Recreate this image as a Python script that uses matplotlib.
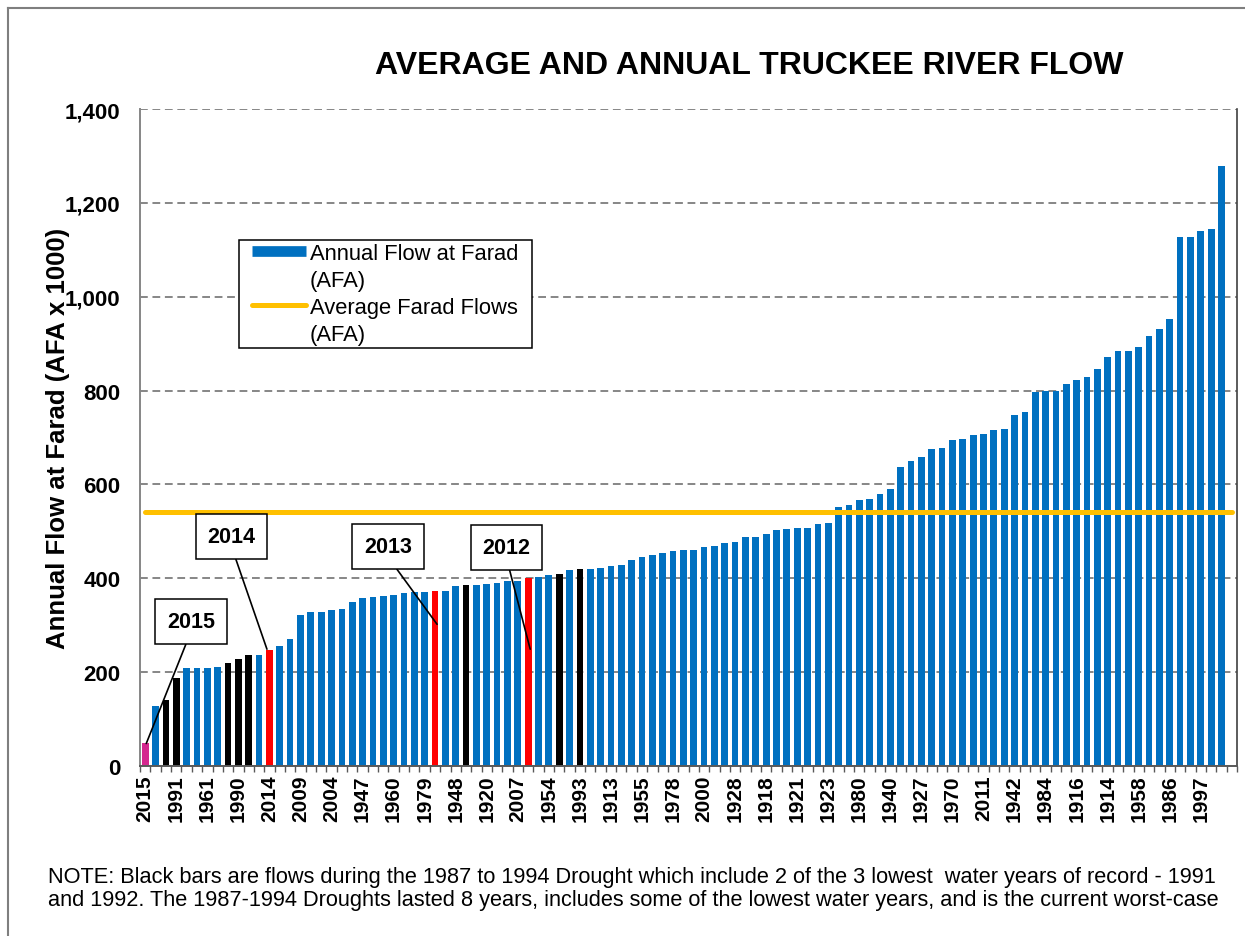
# Average and annual Truckee River flow at Farad, sorted low to high
import numpy as np
import matplotlib.pyplot as plt
from matplotlib.lines import Line2D
from matplotlib.path import Path
from matplotlib.ticker import FuncFormatter

plt.rcParams['font.family'] = ['Liberation Sans', 'DejaVu Sans']

# annual flows (AFA x 1000), sorted ascending
flows = [49, 128, 140, 188, 208, 208, 209, 210, 219, 228, 236, 236, 247, 255, 270,
         322, 329, 329, 332, 334, 350, 357, 360, 363, 365, 368, 370, 370, 374, 374,
         384, 386, 386, 388, 390, 394, 394, 401, 402, 406, 409, 417, 419, 419, 421,
         426, 428, 440, 446, 450, 453, 459, 460, 460, 466, 469, 475, 478, 489, 489,
         495, 503, 506, 507, 507, 516, 518, 553, 556, 567, 568, 579, 590, 637, 650,
         659, 675, 677, 695, 696, 705, 708, 716, 719, 748, 754, 796, 800, 800, 813,
         823, 829, 845, 872, 884, 885, 893, 917, 931, 953, 1127, 1128, 1139, 1145, 1278]
# year labels shown under every third bar
tick_years = ['2015', '1991', '1961', '1990', '2014', '2009', '2004', '1947', '1960',
              '1979', '1948', '1920', '2007', '1954', '1993', '1913', '1955', '1978',
              '2000', '1928', '1918', '1921', '1923', '1980', '1940', '1927', '1970',
              '2011', '1942', '1984', '1916', '1914', '1958', '1986', '1997']
avg_flow = 542
drought_bars = [2, 3, 8, 9, 10, 31, 40, 42]   # 1987-1994 drought
recent_bars = [12, 28, 37]                    # 2014, 2013, 2012
current_bar = 0                               # 2015
callouts = [('2015', 0), ('2014', 12), ('2013', 28), ('2012', 37)]

n_bars = len(flows)
n_slots = n_bars + 1
x = np.arange(n_bars)

blue = '#0070C0'
colors = [blue] * n_bars
for i in drought_bars:
    colors[i] = 'black'
for i in recent_bars:
    colors[i] = '#FF0000'
colors[current_bar] = '#D4268E'

fig = plt.figure(figsize=(12.45, 9.37), dpi=100)
ax = fig.add_axes([0.1125, 0.1814, 0.8811, 0.7012])

ax.bar(x, flows, width=0.65, color=colors, zorder=2)
ax.plot([0, n_slots - 1], [avg_flow, avg_flow], color='#FFC000', lw=3.6,
        solid_capstyle='round', zorder=3)

ax.set_xlim(-0.5, n_slots - 0.5)
ax.set_ylim(0, 1400)
ax.set_yticks(np.arange(0, 1401, 200))
ax.yaxis.set_major_formatter(FuncFormatter(lambda v, p: f'{int(v):,}'))
for lab in ax.get_yticklabels():
    lab.set_fontweight('bold')
ax.tick_params(axis='y', length=0, pad=14, labelsize=16)

ax.set_xticks(np.arange(0, n_bars, 3))
ax.set_xticklabels(tick_years, rotation=90, fontweight='bold', fontsize=15)
ax.set_xticks(np.arange(-0.5, n_slots, 1), minor=True)
ax.tick_params(axis='x', which='major', length=0, pad=6)
ax.tick_params(axis='x', which='minor', length=4, width=1, color='#595959', direction='out')

ax.yaxis.grid(True, color='#868686', lw=1.4, linestyle=(0, (4, 2.4)))
ax.set_axisbelow(True)
ax.spines['top'].set_visible(False)
ax.spines['left'].set_color('#868686')
ax.spines['left'].set_linewidth(1.4)
ax.spines['bottom'].set_color('#595959')
ax.spines['bottom'].set_linewidth(1.4)
ax.spines['right'].set_color('#404040')
ax.spines['right'].set_linewidth(1.2)

ax.set_ylabel('Annual Flow at Farad (AFA x 1000)', fontsize=18.5, fontweight='bold')
ax.yaxis.set_label_coords(-0.0635, 0.5)

# callout boxes
box_pos = {'2015': (4.4, 308), '2014': (8.35, 489), '2013': (23.45, 468), '2012': (34.9, 466)}
tip_pos = {'2015': (0.1, 48), '2014': (11.76, 249), '2013': (28.2, 302), '2012': (37.2, 249)}
for label, bar_i in callouts:
    ax.annotate(label, xy=tip_pos[label], xytext=box_pos[label],
                ha='center', va='center', fontsize=15.5, fontweight='bold', zorder=5,
                bbox=dict(boxstyle='square,pad=0.55', fc='white', ec='black', lw=1.1),
                arrowprops=dict(arrowstyle='-', color='black', lw=1.2,
                                relpos=(0.5, 0), shrinkA=0, shrinkB=0))


# legend frame with wider side padding than top/bottom padding
def wide_box(x0, y0, width, height, mutation_size):
    dx = 0.45 * mutation_size
    return Path([(x0 - dx, y0), (x0 + width + dx, y0), (x0 + width + dx, y0 + height),
                 (x0 - dx, y0 + height), (x0 - dx, y0)], closed=True)


handles = [Line2D([0], [0], color=blue, lw=7.7, solid_capstyle='butt'),
           Line2D([], [], color='none'),
           Line2D([0], [0], color='#FFC000', lw=3.6, solid_capstyle='round'),
           Line2D([], [], color='none')]
labels = ['Annual Flow at Farad', '(AFA)', 'Average Farad Flows', '(AFA)']
leg = ax.legend(handles, labels, loc='upper left', bbox_to_anchor=(0.099, 0.801),
                borderaxespad=0, fontsize=15.8, handlelength=2.45, handletextpad=0.2,
                labelspacing=0.27, borderpad=0.15, fancybox=False, framealpha=1)
leg.get_frame().set_boxstyle(wide_box)
leg.get_frame().set_edgecolor('black')
leg.get_frame().set_linewidth(1.1)

fig.text(0.6016, 0.9296, 'AVERAGE AND ANNUAL TRUCKEE RIVER FLOW',
         ha='center', va='center', fontsize=23, fontweight='bold')

fig.text(0.0386, 1 - 878 / 937,
         'NOTE: Black bars are flows during the 1987 to 1994 Drought which include 2 of the 3 lowest  water years of record - 1991',
         ha='left', va='center', fontsize=15.7)
fig.text(0.0386, 1 - 901 / 937,
         'and 1992. The 1987-1994 Droughts lasted 8 years, includes some of the lowest water years, and is the current worst-case',
         ha='left', va='center', fontsize=15.7)

# outer frame (left and top edges visible)
fig.add_artist(Line2D([0.0064, 0.0064], [0, 0.9904], color='#7F7F7F', lw=1.5))
fig.add_artist(Line2D([0.0064, 1], [0.9904, 0.9904], color='#7F7F7F', lw=1.5))

fig.savefig('out.png', dpi=100)
